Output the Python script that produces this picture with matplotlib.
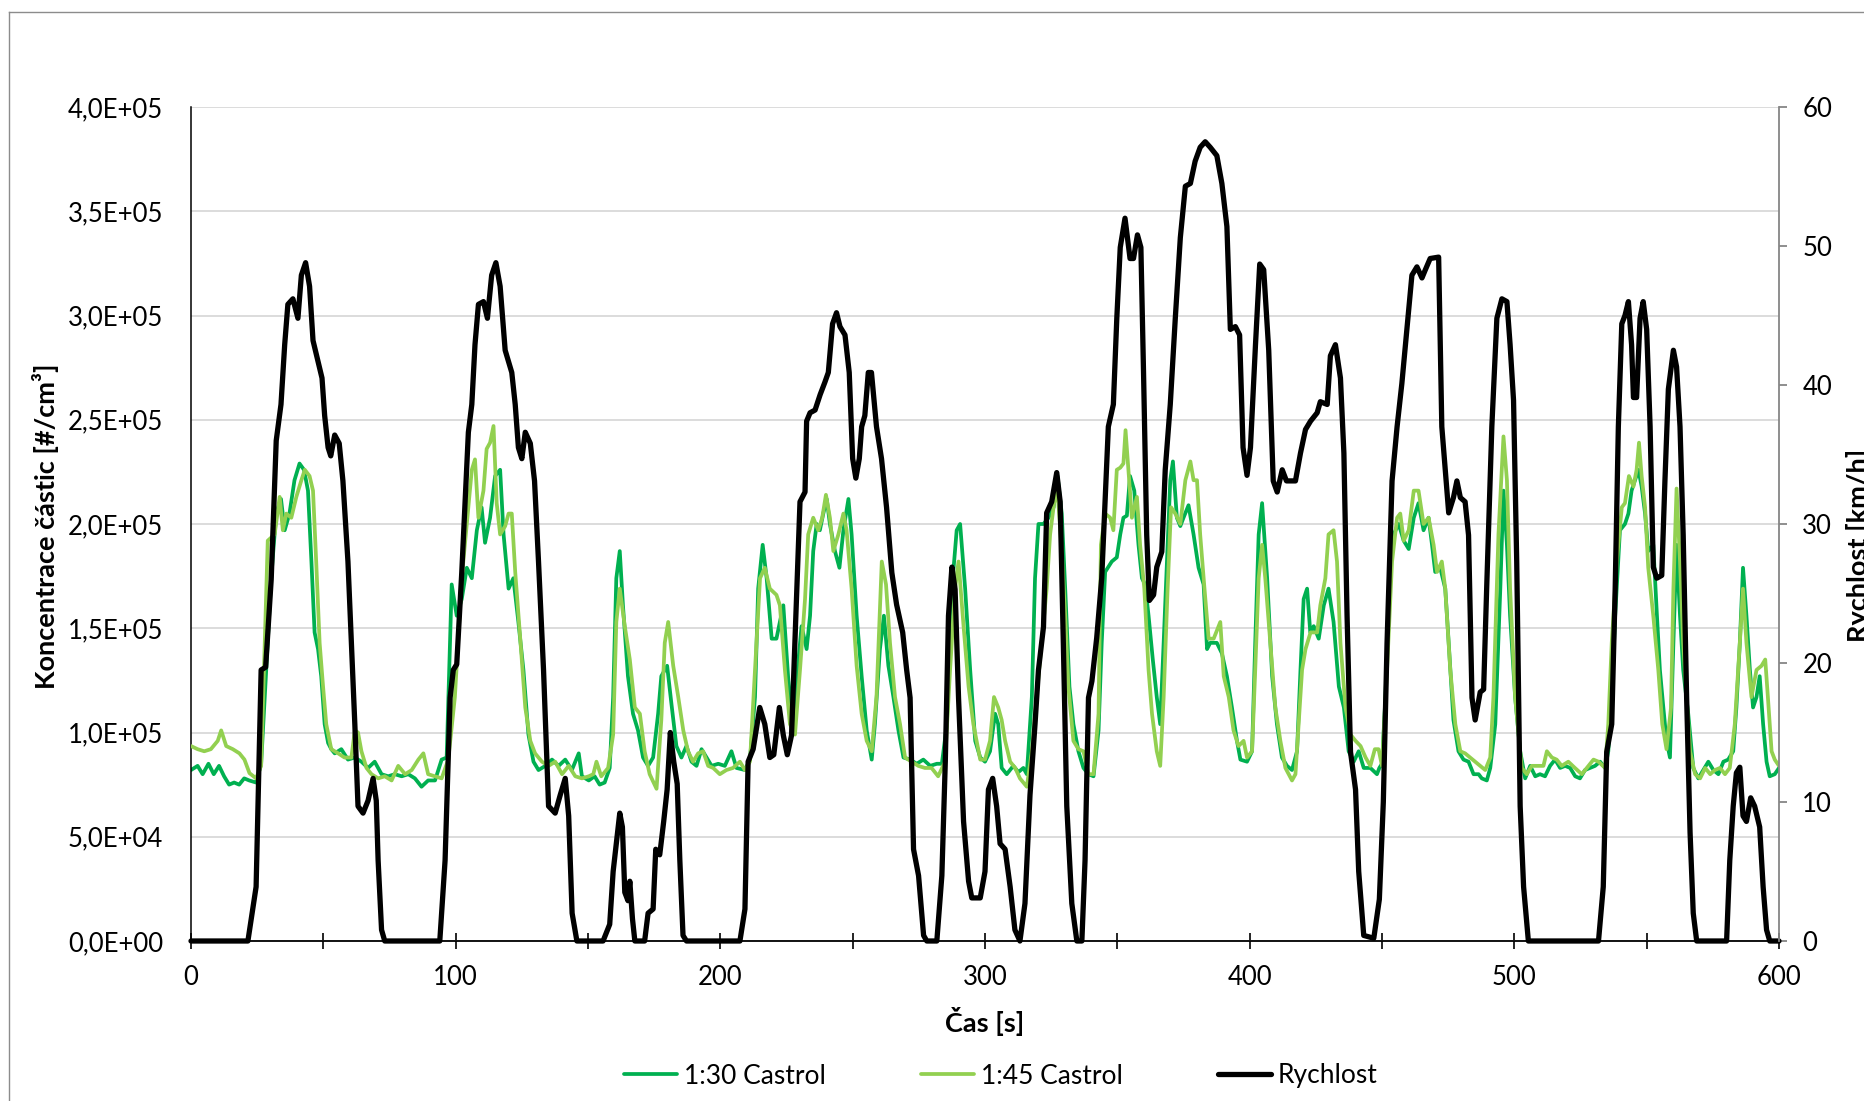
import matplotlib
matplotlib.use('Agg')
import matplotlib.pyplot as plt
from matplotlib.ticker import MultipleLocator, FuncFormatter
from matplotlib.lines import Line2D
import numpy as np

plt.rcParams['font.family'] = ['Lato', 'DejaVu Sans']

# rychlost vozidla [km/h] : (cas [s], hodnota)
speed_pts = [
    (0, 0), (21.5, 0), (24.6, 3.9), (26.5, 19.5), (28.2, 19.7), (30.3, 26), (32.2, 36), (34, 38.6),
    (35.4, 42.9), (36.6, 45.8), (38.5, 46.2), (40.4, 44.8), (41.7, 47.9), (43.3, 48.8), (44.8, 47.1),
    (46.1, 43.2), (48, 41.7), (49.5, 40.5), (50.5, 37.8), (51.8, 35.5), (52.8, 34.9), (54.3, 36.4),
    (56, 35.8), (57.4, 33.1), (59.3, 27.3), (60.6, 21.4), (61.9, 15.6), (63.1, 9.7), (65, 9.2),
    (66.9, 10.1), (68.8, 11.7), (70, 10.1), (70.7, 5.8), (72, 0.8), (73.2, 0),
    (94, 0), (96, 5.8), (97.9, 17.5), (99.1, 19.5), (100.4, 19.9), (102.3, 26.5), (104.8, 36.6),
    (106.1, 38.6), (107.3, 42.9), (108.6, 45.8), (110.5, 46), (112, 44.8), (113.6, 47.9), (115.2, 48.8),
    (116.8, 47.1), (118.7, 42.5), (121.2, 40.9), (122.5, 38.6), (123.7, 35.5), (125, 34.7), (126.3, 36.6),
    (128.2, 35.8), (129.8, 33.1), (131.3, 27.3), (133.2, 19.5), (135.1, 9.7), (137.6, 9.2), (139.5, 10.5),
    (141.4, 11.7), (142.7, 9), (144, 2), (145.8, 0),
    (155.7, 0), (158.2, 1.2), (159.5, 5), (160.7, 7), (162, 9.2), (163, 8.2), (163.9, 3.5), (165.1, 2.9),
    (165.8, 4.3), (166.8, 1.6), (167.7, 0), (171.4, 0), (172.7, 2), (174.6, 2.3), (175.6, 6.6),
    (177.1, 6.2), (178.6, 8.6), (179.9, 10.9), (181.1, 15), (182.4, 12.9), (183.7, 11.3), (184.7, 5.8),
    (185.9, 0.4), (187.2, 0),
    (207.4, 0), (209.3, 2.3), (210.5, 12.9), (212.4, 13.8), (214.9, 16.8), (216.8, 15.6), (218.7, 13.2),
    (220.2, 13.4), (222.3, 16.8), (223.8, 14.8), (225.3, 13.4), (226.9, 14.8), (228.9, 25.3), (230.1, 31.6),
    (232, 32.3), (232.6, 37.4), (233.9, 38), (235.8, 38.2), (237.7, 39.3), (239.5, 40.2), (240.8, 40.9),
    (242.4, 44.4), (243.9, 45.2), (245.2, 44.2), (247.1, 43.6), (248.7, 40.9), (250, 34.7), (251.2, 33.3),
    (252.5, 34.7), (253.4, 37), (254.6, 37.8), (255.9, 40.9), (257.1, 40.9), (259, 37), (260.9, 34.7),
    (262.8, 31.2), (264.8, 26.5), (266.6, 24.2), (268.9, 22.2), (270.4, 19.5), (271.7, 17.5), (273, 6.6),
    (274.9, 4.7), (276.8, 0.4), (278, 0),
    (281.8, 0), (283.7, 4.7), (285, 12.9), (286.2, 23.4), (287.5, 26.9), (288.7, 25.3), (290, 17.5),
    (291.9, 8.6), (293.8, 4.3), (295, 3.1), (298.2, 3.1), (300, 5), (301.3, 10.9), (302.9, 11.7),
    (304.4, 9.7), (305.7, 7), (307.6, 6.6), (309.5, 3.9), (311.3, 0.8), (313.2, 0), (315.1, 2.7),
    (317, 10.5), (318.9, 15.6), (320.2, 19.5), (322.1, 22.6), (323.3, 30.8), (325.2, 31.6), (327.1, 33.7),
    (328.4, 31.6), (329.6, 21.4), (330.9, 9.7), (332.8, 2.7), (334.7, 0), (336.6, 0), (337.8, 5.8),
    (339.1, 17.5), (340.4, 18.7), (342.2, 21.8), (344.1, 26.1), (346.6, 37), (348.5, 38.6), (349.8, 44.8),
    (351.1, 49.9), (352.9, 52), (354.8, 49.1), (356.1, 49.1), (357.6, 50.8), (358.9, 49.9), (359.9, 40.9),
    (361.1, 29.2), (362.1, 24.5), (363.7, 24.9), (364.9, 26.9), (366.8, 28), (368.1, 33.9), (370, 38.6),
    (371.9, 44.8), (373.8, 50.6), (375.7, 54.3), (377.6, 54.5), (379.4, 56.1), (381.3, 57.1), (383.2, 57.5),
    (385.1, 57.1), (387.6, 56.5), (389.5, 54.5), (391.4, 51.4), (392.7, 44), (394.6, 44.2), (396.2, 43.6),
    (397.5, 35.5), (399, 33.5), (400.3, 35.5), (402.2, 42.9), (403.8, 48.7), (405.3, 48.3), (407.2, 42.5),
    (408.9, 33.1), (410.4, 32.3), (412.3, 33.9), (413.9, 33.1), (417.3, 33.1), (419.2, 35.1), (421.1, 36.8),
    (423, 37.4), (425.5, 38), (426.7, 38.8), (429.3, 38.6), (430.5, 42.1), (432.4, 42.9), (434.3, 40.5),
    (435.6, 35.1), (436.8, 23.4), (438.1, 13.6), (440, 10.9), (441.2, 5), (443.1, 0.4), (446.9, 0.2),
    (449, 3), (450.5, 10), (451.9, 21.4), (453.8, 33.1), (455.7, 37), (457.5, 40.1), (459.4, 44),
    (461.3, 47.9), (463.2, 48.5), (465.1, 47.7), (466.4, 48.3), (468.2, 49.1), (471.4, 49.2), (472.6, 37),
    (473.9, 33.9), (475.2, 30.8), (477, 31.9), (478.3, 33.1), (479.6, 31.9), (481.4, 31.6), (482.7, 29.2),
    (484, 17.5), (485.2, 15.9), (487.1, 17.9), (488.4, 18.1), (489.6, 25.7), (491.5, 37), (493.4, 44.8),
    (495.3, 46.2), (497.2, 46), (498.4, 42.9), (499.7, 38.9), (500.9, 27.3), (502.2, 9.7), (503.5, 3.9),
    (505.3, 0),
    (531.8, 0), (533.6, 3.9), (534.9, 13.6), (536.8, 15.6), (538.1, 25.3), (539.3, 37), (540.6, 44.4),
    (541.8, 45), (543.1, 46), (544.3, 42.9), (545, 39.1), (546.2, 39.1), (547.5, 44.8), (548.7, 46),
    (550, 44), (551.3, 37), (552.5, 26.9), (553.8, 26.1), (555.7, 26.3), (556.9, 33.1), (558.2, 39.7),
    (560.1, 42.5), (561.3, 41.3), (562.6, 37), (563.8, 29.2), (565.1, 17.5), (566.4, 7.8), (567.6, 2),
    (568.9, 0), (580.2, 0), (581.4, 5.8), (582.7, 9.7), (583.9, 12.1), (585.2, 12.5), (586.4, 9),
    (587.7, 8.6), (589.3, 10.3), (590.8, 9.7), (592.7, 8.2), (594, 3.9), (595.3, 0.8), (596.5, 0), (600, 0),
]

# koncentrace 1:30 Castrol [tisice #/cm3]
c30_pts = [
    (0, 82), (2.5, 84), (4.4, 80), (6.6, 85), (8.6, 80), (10.6, 84), (12.5, 79), (14.4, 75), (16.3, 76),
    (18.2, 75), (20.1, 78), (22, 77), (24.6, 76), (26.5, 85), (29, 143), (30.3, 174), (32.2, 205),
    (34, 212), (35.4, 197), (37.2, 205), (39.1, 221), (41, 229), (42.7, 226), (44.2, 216), (45.5, 182),
    (46.7, 148), (48, 140), (49.2, 127), (50.5, 104), (51.8, 95), (53, 92), (54.3, 90), (56.8, 92),
    (59.3, 87), (61.9, 88), (64.4, 86), (66.9, 83), (69.4, 86), (72, 80), (74.5, 79), (77, 80), (79.6, 79),
    (82.1, 80), (84.6, 78), (87.1, 74), (89.6, 77), (92.2, 77), (94.7, 87), (96.6, 88), (98.5, 171),
    (100.4, 156), (102.3, 164), (104.2, 179), (106.1, 174), (108, 197), (109.8, 208), (111.1, 191),
    (113, 203), (114.9, 223), (116.8, 226), (118.1, 195), (120, 169), (121.8, 174), (123.7, 153),
    (125.6, 130), (127.5, 99), (129.4, 86), (131.3, 82), (133.9, 84), (136.4, 87), (138.9, 84), (141.4, 87),
    (143.9, 82), (146.5, 90), (147.7, 79), (150.3, 77), (152.5, 79), (154.4, 75), (156.3, 76), (158.2, 83),
    (159.5, 117), (160.7, 174), (162, 187), (163.2, 161), (165.1, 127), (167, 109), (168.9, 101),
    (170.8, 88), (172.7, 84), (174.6, 88), (176.5, 109), (177.7, 127), (179.9, 132), (181.5, 114),
    (183.4, 93.5), (185.3, 88), (187.2, 93.5), (189.1, 86), (191, 84), (192.9, 92), (194.8, 88), (196.7, 84),
    (199.2, 85), (201.7, 84), (204.2, 91), (206.1, 83), (209.3, 82), (211.2, 87), (213.1, 117), (214.3, 169),
    (216, 190), (217.5, 174), (219.4, 145), (221.2, 145), (223.8, 161), (225.7, 125), (227.6, 104),
    (228.8, 125), (230.7, 151), (232.6, 140), (233.9, 156), (235.1, 187), (236.4, 200), (237.6, 197),
    (238.9, 205), (240.2, 212), (241.4, 200), (243.3, 187), (245, 179), (246.5, 197), (248.4, 212),
    (249.6, 195), (251.5, 156), (253.4, 127), (255.3, 101), (257.2, 87), (258.4, 104), (260.3, 140),
    (261.8, 156), (263.5, 132), (265.4, 117), (267.3, 101), (269.2, 88), (271.7, 87), (274.2, 85),
    (276.7, 87), (279.3, 84), (281.8, 85), (283.7, 85), (285.6, 104), (287.5, 169), (289.3, 197),
    (290.6, 200), (292.5, 169), (294.4, 130), (296.3, 96), (298.2, 88), (300, 86), (301.9, 91), (303.8, 109),
    (305, 104), (306.3, 83), (308.2, 80), (310.7, 84), (312.6, 81), (314.5, 83), (315.8, 80), (317.7, 117),
    (318.9, 174), (320.2, 200), (322.1, 200), (324, 203), (325.9, 208), (327.4, 223), (329, 205),
    (330.3, 169), (331.9, 122), (333.4, 104), (335.3, 91), (337.2, 83), (339.1, 80), (341, 79), (342.9, 101),
    (344.1, 143), (345.4, 177), (347.9, 182), (349.8, 184), (351.1, 195), (352.3, 203), (353.6, 204),
    (354.8, 223), (356.4, 216), (358, 190), (359.3, 174), (360.5, 171), (361.8, 156), (363.4, 135),
    (364.9, 117), (366.2, 104), (367.5, 143), (369, 190), (370, 221), (371, 230), (372.5, 203), (373.8, 199),
    (375, 203), (376.9, 209), (378.8, 195), (380.7, 179), (382.6, 171), (383.9, 140), (385.1, 143),
    (387.6, 143), (389.5, 138), (391.4, 127), (393.3, 112), (395.2, 96), (396.5, 87), (399, 86), (400.9, 91),
    (402.1, 143), (403.4, 195), (404.7, 210), (406.6, 174), (408.5, 127), (410.3, 104), (412.2, 88),
    (414.1, 84), (416, 82), (417.9, 91), (419.2, 130), (420.4, 164), (421.7, 169), (422.9, 148), (424.2, 151),
    (426.1, 145), (428, 161), (429.8, 169), (431.7, 153), (433.7, 122), (435.6, 112), (437.4, 91),
    (439.3, 86), (441.2, 91), (443.1, 83), (445.6, 83), (448.1, 80), (449, 83), (450, 85), (451.3, 117),
    (453.1, 182), (454.4, 195), (456.3, 200), (458.2, 192), (460.1, 188), (462, 203), (463.8, 210),
    (465.7, 197), (467.6, 203), (468.9, 190), (470.1, 177), (472, 179), (473.9, 169), (475.2, 143),
    (477, 106), (478.9, 91), (480.8, 87), (482.7, 86), (484.6, 80), (486.5, 80), (487.7, 78), (489.6, 77),
    (490.9, 83), (492.8, 104), (494.7, 169), (495.9, 216), (497.2, 190), (498.4, 156), (500.3, 117),
    (502.2, 91), (504.1, 78), (506, 84), (507.9, 79), (509.7, 80), (511.6, 79), (513.5, 84), (515.4, 87),
    (517.3, 83), (519.2, 84), (521.1, 83), (523, 79), (524.8, 78), (526.7, 82), (528.6, 83), (530.5, 84),
    (532.4, 86), (534.3, 83), (535.5, 91), (536.8, 117), (538.1, 156), (539.9, 197), (541.8, 200),
    (543.1, 205), (544.3, 216), (545.6, 221), (546.9, 226), (548.1, 218), (549.4, 205), (550.6, 187),
    (552.5, 190), (553.8, 158), (555, 130), (556.3, 112), (557.5, 96), (558.8, 88), (560.1, 143),
    (561.3, 190), (562.6, 156), (563.8, 130), (565.7, 109), (567.6, 83), (569.5, 78), (571.4, 82),
    (573.3, 86), (575.2, 82), (577.1, 80), (579, 86), (580.8, 87), (582.7, 91), (583.9, 112), (585.2, 143),
    (586.4, 179), (587.7, 156), (589, 130), (590.2, 112), (591.5, 117), (592.7, 127), (594, 104),
    (595.3, 86), (596.5, 79), (598.4, 80), (600, 83),
]

# koncentrace 1:45 Castrol [tisice #/cm3]
c45_pts = [
    (0, 93.5), (2.5, 92), (5, 91), (7.5, 92), (10.1, 96), (11.4, 101), (13.3, 93.5), (15.8, 92), (18.3, 90),
    (20.2, 87), (22.1, 80.5), (24.6, 78), (26.5, 84), (29, 192), (31.6, 195), (33.5, 213), (34.7, 197),
    (36, 205), (37.9, 203), (39.8, 213), (41.7, 221), (43, 226), (44.8, 223), (46.1, 216), (47.3, 182),
    (48.6, 143), (49.9, 122), (51.1, 104), (53, 92), (55.6, 90), (58, 88), (60.6, 88), (61.9, 101),
    (63.1, 100), (64.4, 91), (66.3, 83), (68.2, 80), (70.7, 78), (73.2, 79), (75.8, 77), (78.3, 84),
    (80.9, 80), (83.4, 82), (85.9, 87), (87.8, 90), (89.6, 80), (92.2, 79), (94.7, 78), (97.2, 87),
    (99.7, 117), (102.3, 174), (104.2, 200), (106.1, 226), (107.3, 231), (108.6, 203), (110.5, 216),
    (111.7, 236), (113, 239), (114.3, 247), (115.5, 210), (116.8, 195), (118.7, 199), (120, 205),
    (121.2, 205), (122.5, 177), (124.4, 145), (126.3, 112), (128.2, 96), (130, 90), (132.6, 86), (135.1, 84),
    (137.6, 86), (140.2, 80), (142.7, 84), (145.2, 79), (147.7, 78), (150.3, 79), (152, 80), (153.2, 86),
    (155, 79), (157.6, 83), (159.5, 99), (160.7, 153), (162, 169), (163.9, 151), (165.8, 135), (167.7, 112),
    (169.6, 109), (171.4, 91), (173.3, 80), (175.9, 73), (177.7, 106), (179, 143), (180.3, 153),
    (182.2, 132), (184.1, 117), (186, 101), (187.8, 91), (189.7, 86), (191.6, 90), (193.5, 91), (195.4, 84),
    (197.3, 83), (199.8, 80), (202.3, 82), (204.8, 83), (207.4, 86), (209.3, 82), (211.2, 86), (213.1, 130),
    (215, 174), (216.8, 179), (218.7, 169), (221.2, 166), (222.5, 161), (224.4, 130), (226.3, 104),
    (228.2, 99), (230.1, 130), (232, 164), (233.2, 195), (235.1, 203), (237, 197), (238.5, 203),
    (239.9, 214), (241.4, 203), (242.7, 187), (244.6, 195), (246.5, 205), (247.7, 197), (249.6, 169),
    (251.5, 132), (253.4, 109), (255.3, 96), (257.2, 91), (259, 117), (261, 182), (262.6, 171), (264.1, 143),
    (266, 117), (267.9, 104), (269.8, 88), (272.3, 86), (274.8, 84), (277.3, 83), (279.8, 83), (282.3, 79),
    (284.9, 86), (286.8, 130), (288.7, 169), (290, 182), (291.9, 151), (293.8, 122), (295.6, 104),
    (298.2, 87), (300, 87), (301.9, 96), (303.4, 117), (305, 112), (306.3, 106), (307.6, 96), (309.5, 86),
    (311.4, 83), (313.2, 78), (315.8, 74), (317.7, 91), (319.5, 117), (321.4, 143), (323.3, 169),
    (324.6, 195), (326.1, 210), (327.4, 216), (329, 187), (330.3, 156), (331.5, 122), (333.4, 96),
    (335.3, 92), (337.2, 91), (339.1, 80), (341, 80), (342.9, 109), (343.8, 190), (345.4, 205), (347.3, 203),
    (348.5, 197), (349.8, 226), (351.1, 227), (352.3, 229), (353.1, 245), (354.2, 226), (355.5, 203),
    (357.4, 213), (358.6, 190), (360.2, 169), (361.8, 130), (363.1, 109), (364.9, 91), (366.2, 84),
    (367.5, 117), (369, 169), (370.3, 208), (371.9, 205), (373.8, 200), (375.7, 221), (377.6, 230),
    (378.8, 221), (380.1, 221), (381.3, 195), (382.8, 171), (384.5, 145), (386.4, 145), (388.9, 153),
    (390.2, 127), (392.1, 117), (393.9, 101), (395.8, 93.5), (397.7, 96), (399, 88), (400.9, 91),
    (402.1, 130), (403.4, 174), (404.7, 190), (405.9, 174), (407.8, 143), (409.7, 112), (411.6, 96),
    (413.5, 83), (416, 77), (417.3, 80), (418.5, 104), (419.8, 130), (421.1, 140), (423, 148), (425.5, 148),
    (426.7, 161), (428.6, 174), (429.8, 195), (431.7, 197), (433, 182), (434.3, 143), (436.2, 112),
    (438.1, 99), (440, 96), (441.9, 93.5), (443.8, 88), (445.6, 84), (447.3, 92), (448.7, 92), (450, 84),
    (451.9, 130), (453.8, 182), (455.7, 203), (456.9, 205), (458.2, 192), (460.1, 197), (462, 216),
    (463.8, 216), (465.7, 200), (467.6, 203), (469.5, 190), (470.8, 177), (472.6, 182), (473.9, 169),
    (475.8, 130), (477.7, 104), (479.6, 91), (481.4, 90), (483.3, 88), (485.2, 86), (487.1, 84), (489, 82),
    (490.9, 88), (492.1, 117), (494, 195), (495.9, 242), (497.2, 221), (498.4, 169), (500.3, 117),
    (502.8, 83), (504.7, 80), (506.6, 84), (509.1, 84), (511, 84), (512.3, 91), (514.2, 88), (516, 87),
    (517.9, 84), (520.4, 86), (522.9, 83), (525.5, 80), (528, 84), (529.9, 87), (531.8, 86), (534.3, 83),
    (535.5, 104), (536.8, 143), (538.7, 182), (540.6, 208), (541.8, 210), (543.3, 223), (545, 218),
    (546.2, 226), (547.1, 239), (548.1, 223), (549.4, 208), (550.6, 179), (552.5, 156), (554.4, 130),
    (555.9, 104), (557.5, 92), (559.2, 112), (560.1, 169), (561.3, 217), (562.6, 182), (563.8, 143),
    (565.1, 117), (566.4, 91), (568.3, 80), (570.2, 78), (572.1, 83), (574, 80), (575.8, 82), (577.7, 83),
    (579.6, 80), (581.4, 83), (583.3, 104), (585.2, 143), (586.4, 169), (587.7, 143), (589.6, 117),
    (591.5, 130), (593.4, 132), (594.8, 135), (595.8, 117), (597.2, 91), (598.4, 87), (600, 84),
]

series_names = ['1:30 Castrol', '1:45 Castrol', 'Rychlost']
series_colors = ['#00B050', '#92D050', '#000000']

W, H = 1865, 1101
fig = plt.figure(figsize=(W / 100, H / 100), dpi=100)

# plot area in pixels: x 191..1779, y 107..941
ax = fig.add_axes([191 / W, 1 - 941 / H, (1779 - 191) / W, (941 - 107) / H])
ax2 = ax.twinx()

t30, c30 = np.array(c30_pts).T
t45, c45 = np.array(c45_pts).T
ts, vs = np.array(speed_pts).T

l1, = ax.plot(t30, c30 * 1000, color=series_colors[0], lw=2.7, zorder=2,
              solid_joinstyle='round', solid_capstyle='round')
l2, = ax.plot(t45, c45 * 1000, color=series_colors[1], lw=2.7, zorder=3,
              solid_joinstyle='round', solid_capstyle='round')
l3, = ax2.plot(ts, vs, color=series_colors[2], lw=3.8, clip_on=False,
               solid_joinstyle='round', solid_capstyle='round')

ax.set_xlim(0, 600)
ax.set_ylim(0, 4e5)
ax2.set_ylim(0, 60)

ax.set_yticks(np.arange(0, 4e5 + 1, 5e4))
ax.yaxis.set_major_formatter(FuncFormatter(lambda v, p: f'{v:.1E}'.replace('.', ',')))
ax.yaxis.grid(True, color='#d9d9d9', lw=1.3)
ax.set_axisbelow(True)
ax.xaxis.set_major_locator(MultipleLocator(100))
ax.xaxis.set_minor_locator(MultipleLocator(50))
ax2.set_yticks(range(0, 61, 10))

for s in ['top', 'right']:
    ax.spines[s].set_visible(False)
for s in ['top', 'left', 'bottom']:
    ax2.spines[s].set_visible(False)
ax.spines['left'].set_color('black')
ax.spines['left'].set_linewidth(1.1)
ax.spines['bottom'].set_color('black')
ax.spines['bottom'].set_linewidth(1.3)
ax2.spines['right'].set_color('#868686')
ax2.spines['right'].set_linewidth(1.3)

ax.tick_params(axis='x', which='both', direction='inout', length=12, width=1.2,
               color='black', pad=11, labelsize=18.5)
ax.tick_params(axis='y', length=0, pad=20, labelsize=18.5)
ax2.tick_params(axis='y', direction='out', length=5.8, width=1.3, color='#868686',
                pad=11, labelsize=18.5)

# axis titles
fig.text(32 / W, 1 - 526 / H, 'Koncentrace částic [#/cm³]', rotation=90,
         ha='left', va='center', fontsize=19.5, fontweight='bold')
fig.text(985 / W, 1 - 1022 / H, 'Čas [s]', ha='center', va='center',
         fontsize=19.5, fontweight='bold')
fig.text(1846 / W, 1 - 545 / H, 'Rychlost [km/h]', rotation=90,
         ha='left', va='center', fontsize=19.5, fontweight='bold')

fig.legend([l1, l2, l3], series_names, loc='center', ncol=3, frameon=False,
           bbox_to_anchor=(1001 / W, 1 - 1076 / H), fontsize=19,
           handlelength=2.0, handletextpad=0.27, columnspacing=3.6)

# chart frame
fig.add_artist(Line2D([9 / W, 9 / W], [0, 1 - 12 / H], color='#8c8c8c', lw=1))
fig.add_artist(Line2D([9 / W, 1], [1 - 12 / H, 1 - 12 / H], color='#8c8c8c', lw=1))

fig.savefig('out.png', dpi=100)
